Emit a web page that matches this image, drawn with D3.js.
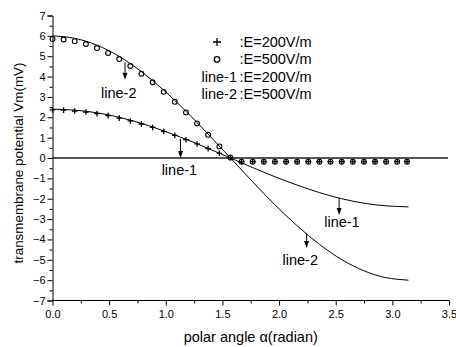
<!DOCTYPE html>
<html>
<head>
<meta charset="utf-8">
<script src="https://cdn.jsdelivr.net/npm/d3@7"></script>
<style>
  body { margin: 0; background: #fff; }
  svg { display: block; font-family: "Liberation Sans", Arial, sans-serif; }
</style>
</head>
<body>
<div id="chart"></div>
<script>
// tick values
const xTicks = [0, 0.5, 1.0, 1.5, 2.0, 2.5, 3.0, 3.5];
const xMinor = [0.25, 0.75, 1.25, 1.75, 2.25, 2.75, 3.25];
const yTicks = [-7, -6, -5, -4, -3, -2, -1, 0, 1, 2, 3, 4, 5, 6, 7];
const yMinor = [-6.5, -5.5, -4.5, -3.5, -2.5, -1.5, -0.5, 0.5, 1.5, 2.5, 3.5, 4.5, 5.5, 6.5];

// measured points (+ : E=200V/m, o : E=500V/m)
const markAngle = [0.000, 0.098, 0.196, 0.295, 0.393, 0.491, 0.589, 0.687, 0.785, 0.884, 0.982,
  1.080, 1.178, 1.276, 1.374, 1.473, 1.571, 1.669, 1.767, 1.865, 1.963, 2.062, 2.160, 2.258,
  2.356, 2.454, 2.553, 2.651, 2.749, 2.847, 2.945, 3.043, 3.130];
const plusVals = [2.36, 2.35, 2.31, 2.26, 2.18, 2.08, 1.96, 1.82, 1.67, 1.50, 1.31,
  1.11, 0.90, 0.69, 0.46, 0.23, 0.02, -0.18, -0.18, -0.18, -0.18, -0.18, -0.18, -0.18,
  -0.18, -0.18, -0.18, -0.18, -0.18, -0.18, -0.18, -0.18, -0.18];
const circleVals = [5.85, 5.82, 5.74, 5.60, 5.40, 5.16, 4.86, 4.52, 4.14, 3.72, 3.25,
  2.76, 2.24, 1.70, 1.14, 0.57, 0.02, -0.18, -0.18, -0.18, -0.18, -0.18, -0.18, -0.18,
  -0.18, -0.18, -0.18, -0.18, -0.18, -0.18, -0.18, -0.18, -0.18];

// theoretical curves (line-1 : E=200V/m, line-2 : E=500V/m)
const lineAngle = [0, 0.196, 0.393, 0.589, 0.785, 0.982, 1.178, 1.374, 1.571,
  1.767, 1.963, 2.160, 2.356, 2.553, 2.749, 2.945, 3.142];
const line1Vals = [2.40, 2.35, 2.22, 2.00, 1.70, 1.33, 0.92, 0.47, 0,
  -0.47, -0.92, -1.33, -1.70, -2.00, -2.22, -2.35, -2.40];
const line2Vals = [6.00, 5.88, 5.54, 4.99, 4.24, 3.33, 2.30, 1.17, 0,
  -1.17, -2.30, -3.33, -4.24, -4.99, -5.54, -5.88, -6.00];

// arrow annotations: label, arrow angle, arrow top/bottom value, label position
const notes = [
  {label: "line-2", x: 0.64, y0: 4.7, y1: 3.85, tx: 0.585, ty: 2.95},
  {label: "line-1", x: 1.13, y0: 0.95, y1: 0.0, tx: 1.12, ty: -0.83},
  {label: "line-1", x: 2.53, y0: -1.96, y1: -2.8, tx: 2.555, ty: -3.37},
  {label: "line-2", x: 2.243, y0: -3.68, y1: -4.42, tx: 2.187, ty: -5.27}
];

const legendLabels = ["+", "o", "line-1", "line-2"];
const legendTexts = [":E=200V/m", ":E=500V/m", ":E=200V/m", ":E=500V/m"];

const width = 456, height = 347;
const x = d3.scaleLinear().domain([0, 3.5]).range([52.5, 449]);
const y = d3.scaleLinear().domain([-7, 7]).range([300.5, 15.5]);

const svg = d3.select("#chart").append("svg")
  .attr("width", width).attr("height", height);

// zero line
svg.append("line")
  .attr("x1", x(0)).attr("x2", x(3.5) - 1)
  .attr("y1", y(0)).attr("y2", y(0))
  .attr("stroke", "#555").attr("stroke-width", 2);

// axes
const xAxis = svg.append("g").attr("transform", `translate(0,${y(-7)})`)
  .call(d3.axisBottom(x).tickValues(xTicks).tickSize(5).tickPadding(5).tickFormat(d3.format(".1f")));
svg.append("g").attr("transform", `translate(0,${y(-7)})`)
  .call(d3.axisBottom(x).tickValues(xMinor).tickSize(3).tickFormat(""))
  .select(".domain").remove();
const yAxis = svg.append("g").attr("transform", `translate(${x(0)},0)`)
  .call(d3.axisLeft(y).tickValues(yTicks).tickSize(5).tickPadding(2).tickFormat(d3.format("d")));
svg.append("g").attr("transform", `translate(${x(0)},0)`)
  .call(d3.axisLeft(y).tickValues(yMinor).tickSize(3).tickFormat(""))
  .select(".domain").remove();

svg.selectAll(".domain").attr("stroke", "#000");
svg.selectAll(".tick line").attr("stroke", "#000");
svg.selectAll(".tick text").attr("font-size", 11).attr("font-family", "Liberation Sans, Arial, sans-serif").attr("fill", "#000");
xAxis.selectAll(".domain").attr("d", `M${x(0)},0H${x(3.5)}`);

// axis titles
svg.append("text")
  .attr("x", x(1.75)).attr("y", 342)
  .attr("text-anchor", "middle").attr("font-size", 14.5)
  .text("polar angle \u03b1(radian)");
svg.append("text")
  .attr("transform", `translate(23,163) rotate(-90)`)
  .attr("text-anchor", "middle").attr("font-size", 13.4)
  .text("transmembrane potential Vm(mV)");

// curves
const line = d3.line().curve(d3.curveNatural)
  .x(d => x(d[0])).y(d => y(d[1]));
[line1Vals, line2Vals].forEach(vals => {
  svg.append("path")
    .datum(lineAngle.map((a, i) => [a, vals[i]]))
    .attr("d", line)
    .attr("fill", "none").attr("stroke", "#000").attr("stroke-width", 1);
});

// markers
const sym = 2.8;
svg.append("g").selectAll("path")
  .data(markAngle.map((a, i) => [a, plusVals[i]]))
  .join("path")
  .attr("d", d => `M${x(d[0]) - sym},${y(d[1])}H${x(d[0]) + sym}M${x(d[0])},${y(d[1]) - sym}V${y(d[1]) + sym}`)
  .attr("stroke", "#000").attr("stroke-width", 1.3);
svg.append("g").selectAll("circle")
  .data(markAngle.map((a, i) => [a, circleVals[i]]))
  .join("circle")
  .attr("cx", d => x(d[0])).attr("cy", d => y(d[1])).attr("r", 2.4)
  .attr("fill", "none").attr("stroke", "#000").attr("stroke-width", 1.1);

// arrow annotations
notes.forEach(n => {
  svg.append("line")
    .attr("x1", x(n.x)).attr("x2", x(n.x))
    .attr("y1", y(n.y0)).attr("y2", y(n.y1) - 7)
    .attr("stroke", "#000").attr("stroke-width", 1);
  svg.append("path")
    .attr("d", `M${x(n.x) - 2.5},${y(n.y1) - 7}L${x(n.x)},${y(n.y1)}L${x(n.x) + 2.5},${y(n.y1) - 7}Z`)
    .attr("fill", "#000");
  svg.append("text")
    .attr("x", x(n.tx)).attr("y", y(n.ty))
    .attr("text-anchor", "middle").attr("font-size", 14.5)
    .text(n.label);
});

// legend
const lg = svg.append("g");
legendLabels.forEach((lab, i) => {
  const cy = 42 + i * 17.4;
  if (lab === "+") {
    lg.append("path")
      .attr("d", `M${217 - 4},${cy}H${217 + 4}M217,${cy - 4}V${cy + 4}`)
      .attr("stroke", "#000").attr("stroke-width", 1.3);
  } else if (lab === "o") {
    lg.append("circle").attr("cx", 217).attr("cy", cy).attr("r", 2.8)
      .attr("fill", "none").attr("stroke", "#000").attr("stroke-width", 1.3);
  } else {
    lg.append("text").attr("x", 237).attr("y", cy + 5)
      .attr("text-anchor", "end").attr("font-size", 14.5).text(lab);
  }
  lg.append("text").attr("x", 239.5).attr("y", cy + 5)
    .attr("font-size", 14.5).text(legendTexts[i]);
});
</script>
</body>
</html>
